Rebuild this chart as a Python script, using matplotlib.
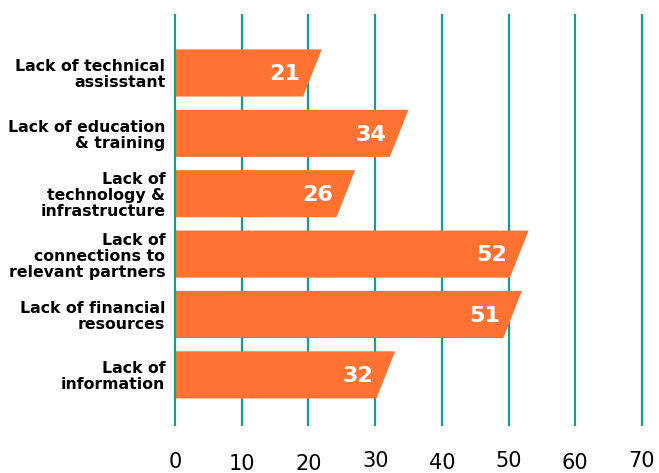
import matplotlib
matplotlib.use('Agg')
import matplotlib.pyplot as plt
import matplotlib.transforms as mtransforms
from matplotlib.patches import Polygon

categories = [
    'Lack of technical\nassisstant',
    'Lack of education\n& training',
    'Lack of\ntechnology &\ninfrastructure',
    'Lack of\nconnections to\nrelevant partners',
    'Lack of financial\nresources',
    'Lack of\ninformation',
]
values = [21, 34, 26, 52, 51, 32]
ticks = [0, 10, 20, 30, 40, 50, 60, 70]
tick_labels = ['0', '10', '20', '30', '40', '50', '60', '70']

ORANGE = '#FF7232'
TEAL = '#11A08C'
# small vertical nudge per tick label (points), gives the hand-set look
tick_dy = [-0.5, -2.0, -1.8, 0.0, -1.0, 0.0, -1.0, 0.5]

plt.rcParams['font.family'] = ['DejaVu Sans']

fig = plt.figure(figsize=(6.59, 4.73), dpi=100)
ax = fig.add_axes([175 / 659, 48 / 473, 467 / 659, 410 / 473])

height = 0.78
slant = 1.4
for i, v in enumerate(values):
    top, bot = i - height / 2, i + height / 2
    poly = Polygon([(0, top), (v - 0.4 + slant, top), (v - 0.4 - slant, bot), (0, bot)],
                   closed=True, facecolor=ORANGE, edgecolor='none', zorder=2)
    ax.add_patch(poly)
    ax.text(v - 2.3, i + 0.02, str(v), ha='right', va='center', color='white',
            fontsize=16, fontweight='bold', zorder=3)

for t in ticks:
    ax.axvline(t, color=TEAL, lw=1.6, zorder=1 if t else 3, clip_on=False)

ax.set_xlim(0, 70)
ax.set_ylim(5.83, -0.96)
for s in ax.spines.values():
    s.set_visible(False)

ax.set_yticks(range(len(categories)))
ax.set_yticklabels(categories, fontsize=11.3, fontweight='bold', linespacing=1.08)
ax.tick_params(axis='y', length=0, pad=7)

ax.set_xticks(ticks)
ax.set_xticklabels(tick_labels, fontsize=15)
ax.tick_params(axis='x', length=0, pad=19)
for lab, dy in zip(ax.get_xticklabels(), tick_dy):
    lab.set_transform(lab.get_transform() +
                      mtransforms.ScaledTranslation(0, dy / 72, fig.dpi_scale_trans))

fig.savefig('out.png', dpi=100, facecolor='white')
